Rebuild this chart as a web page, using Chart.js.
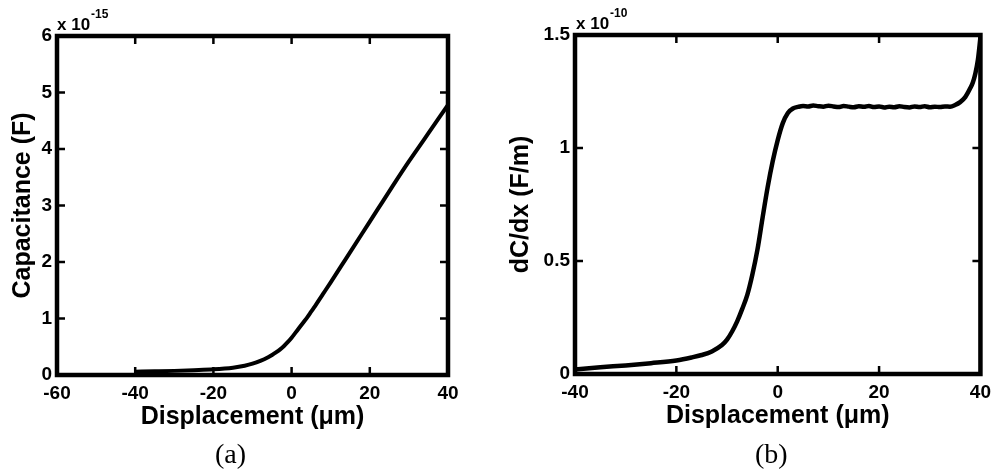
<!DOCTYPE html>
<html>
<head>
<meta charset="utf-8">
<script src="https://cdn.jsdelivr.net/npm/chart.js@4/dist/chart.umd.min.js"></script>
<style>
  body { margin: 0; background: #fff; }
  #wrap { position: relative; width: 998px; height: 471px; overflow: hidden; }
  .panel { position: absolute; top: 0; }
  .cap { position: absolute; font-family: "Liberation Serif", "Times New Roman", serif; font-size: 28px; line-height: 1; color: #000; }
</style>
</head>
<body>
<div id="wrap">
  <div class="panel" style="left:0"><canvas id="chartA" width="498" height="471"></canvas></div>
  <div class="panel" style="left:498px"><canvas id="chartB" width="500" height="471"></canvas></div>
  <div class="cap" style="left:215px; top:440px">(a)</div>
  <div class="cap" style="left:755px; top:440px">(b)</div>
</div>
<script>
// (a) capacitance vs displacement, values in units of 1e-15 F
var dispA = [-40, -35, -30, -25, -20, -15, -12, -10, -8, -6, -5, -4, -3, -2, -1, 0, 1, 2, 3, 4, 5, 6, 8, 10, 14, 18, 22, 26, 30, 34, 38, 40];
var capA = [0.058, 0.065, 0.073, 0.085, 0.10, 0.13, 0.165, 0.20, 0.25, 0.315, 0.355, 0.40, 0.45, 0.51, 0.58, 0.66, 0.75, 0.84, 0.93, 1.02, 1.12, 1.22, 1.43, 1.64, 2.07, 2.50, 2.93, 3.36, 3.78, 4.18, 4.58, 4.78];

// (b) dC/dx vs displacement, values in units of 1e-10 F/m
var dispB = [-40, -35, -30, -25, -20, -17, -15, -13, -11, -10, -9, -8, -7, -6, -5, -4, -3, -2, -1, 0, 1, 2, 3,
  4, 5, 6, 7, 8, 9, 10, 11, 12, 13, 14, 15, 16, 17, 18, 19, 20, 21, 22, 23, 24, 25, 26, 27, 28, 29, 30, 31, 32, 33, 34,
  35, 36, 37, 38, 38.5, 39, 39.5, 40];
var dCdxB = [0.02, 0.03, 0.038, 0.048, 0.06, 0.073, 0.084, 0.10, 0.128, 0.152, 0.188, 0.233, 0.288, 0.35, 0.44, 0.55, 0.69, 0.825, 0.94, 1.035, 1.11, 1.155, 1.175,
  1.182, 1.186, 1.184, 1.188, 1.185, 1.183, 1.187, 1.184, 1.181, 1.186, 1.183, 1.180, 1.185, 1.182, 1.186, 1.181, 1.184, 1.179, 1.183, 1.180, 1.185, 1.181, 1.179, 1.184, 1.181, 1.185, 1.180, 1.183, 1.181, 1.184, 1.183,
  1.19, 1.203, 1.225, 1.265, 1.29, 1.33, 1.39, 1.49];

var ticksXA = [-60, 40, 20];   // min, max, step
var ticksYA = [0, 6, 1];
var ticksXB = [-40, 40, 20];
var ticksYB = [0, 1.5, 0.5];

var FONT = '"Liberation Sans", Arial, Helvetica, sans-serif';

// MATLAB style box with inward ticks and the exponent label
var boxPlugin = {
  id: 'box',
  afterDatasetsDraw(chart, args, opts) {
    var ctx = chart.ctx, a = chart.chartArea;
    var sx = chart.scales.x, sy = chart.scales.y;
    ctx.save();
    ctx.strokeStyle = '#000';
    ctx.lineWidth = 2.5;
    ctx.beginPath();
    sx.ticks.forEach(function (t) {
      var px = sx.getPixelForValue(t.value);
      if (px <= a.left + 1 || px >= a.right - 1) return;
      ctx.moveTo(px, a.bottom); ctx.lineTo(px, a.bottom - 8);
      ctx.moveTo(px, a.top); ctx.lineTo(px, a.top + 8);
    });
    sy.ticks.forEach(function (t) {
      var py = sy.getPixelForValue(t.value);
      if (py <= a.top + 1 || py >= a.bottom - 1) return;
      ctx.moveTo(a.left, py); ctx.lineTo(a.left + 8, py);
      ctx.moveTo(a.right, py); ctx.lineTo(a.right - 8, py);
    });
    ctx.stroke();
    ctx.lineWidth = 4.5;
    ctx.strokeRect(a.left, a.top, a.right - a.left, a.bottom - a.top);

    ctx.fillStyle = '#000';
    ctx.textBaseline = 'alphabetic';
    ctx.textAlign = 'left';
    ctx.font = 'bold 17px ' + FONT;
    var bx = a.left + opts.dx;
    ctx.fillText('x 10', bx, a.top - 6);
    var w = ctx.measureText('x 10').width;
    ctx.font = 'bold 12px ' + FONT;
    ctx.fillText(opts.exp, bx + w + 1, a.top - 18);
    ctx.restore();
  }
};

function makeChart(id, xs, ys, tx, ty, yTitle, yWidth, pad, exp, dx, lw) {
  var pts = xs.map(function (x, i) { return { x: x, y: ys[i] }; });
  return new Chart(document.getElementById(id), {
    type: 'scatter',
    data: {
      datasets: [{
        data: pts,
        showLine: true,
        borderColor: '#000',
        borderWidth: lw,
        pointRadius: 0,
        cubicInterpolationMode: 'monotone',
        fill: false
      }]
    },
    options: {
      responsive: false,
      devicePixelRatio: 1,
      animation: false,
      layout: { padding: pad },
      plugins: {
        legend: { display: false },
        tooltip: { enabled: false },
        box: { exp: exp, dx: dx }
      },
      scales: {
        x: {
          type: 'linear',
          min: tx[0], max: tx[1],
          grid: { display: false, drawTicks: false },
          border: { display: false },
          ticks: { stepSize: tx[2], color: '#000', padding: 7, maxRotation: 0, autoSkip: false,
                   font: { family: FONT, size: 19, weight: 'bold' },
                   callback: function (v) { return String(v); } },
          title: { display: true, text: 'Displacement (\u03bcm)', color: '#000',
                   font: { family: FONT, size: 25, weight: 'bold' }, padding: { top: 0, bottom: 3 } },
          afterFit: function (s) { s.height = 60; }
        },
        y: {
          type: 'linear',
          min: ty[0], max: ty[1],
          grid: { display: false, drawTicks: false },
          border: { display: false },
          ticks: { stepSize: ty[2], color: '#000', padding: 5,
                   font: { family: FONT, size: 19, weight: 'bold' },
                   callback: function (v) { return String(v); } },
          title: { display: true, text: yTitle, color: '#000',
                   font: { family: FONT, size: 25, weight: 'bold' }, padding: { top: 8, bottom: 0 } },
          afterFit: function (s) { s.width = yWidth; }
        }
      }
    },
    plugins: [boxPlugin]
  });
}

makeChart('chartA', dispA, capA, ticksXA, ticksYA, 'Capacitance (F)', 57,
  { left: 0, top: 36, right: 50, bottom: 36 }, '-15', 0, 4);
makeChart('chartB', dispB, dCdxB, ticksXB, ticksYB, 'dC/dx (F/m)', 77,
  { left: 0, top: 35, right: 11, bottom: 37 }, '-10', 1, 4.5);
</script>
</body>
</html>
